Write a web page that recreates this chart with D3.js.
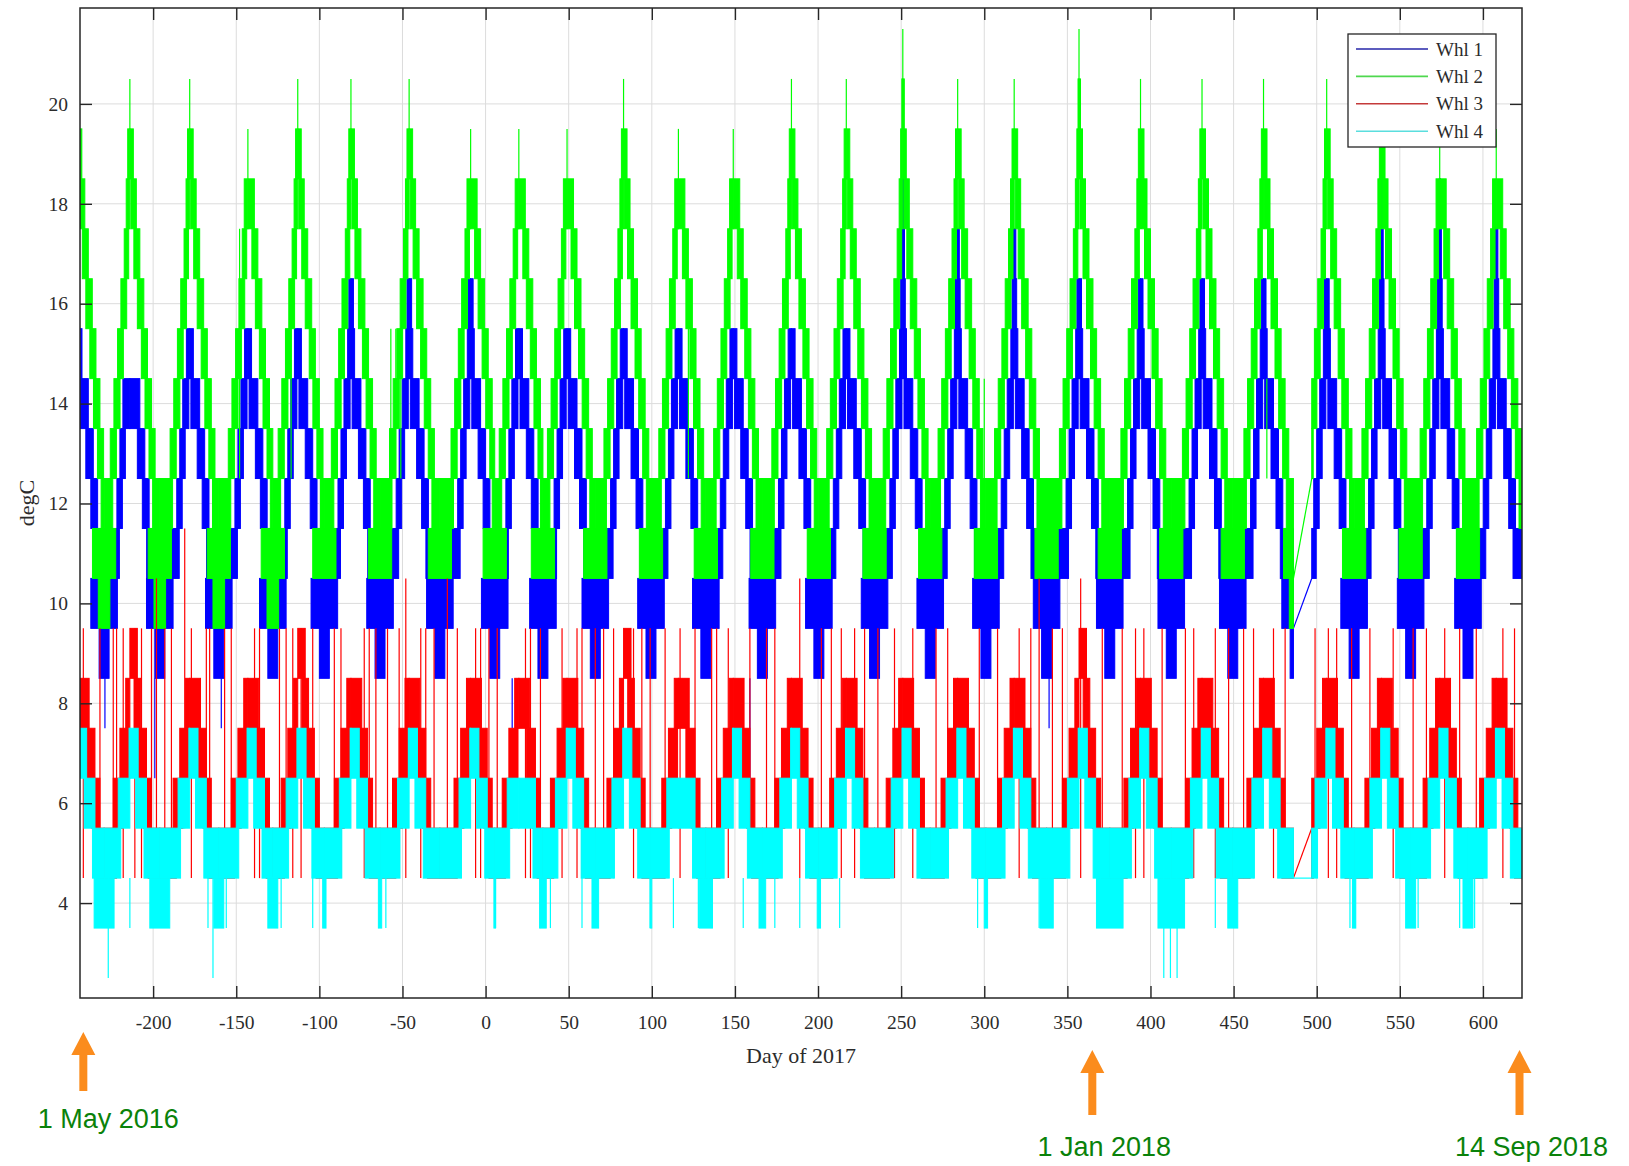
<!DOCTYPE html>
<html>
<head>
<meta charset="utf-8">
<title>Wheel temperatures</title>
<script src="https://cdn.jsdelivr.net/npm/d3@7"></script>
<style>
  body { margin: 0; background: #fff; }
  svg text { font-family: "Liberation Serif", "Times New Roman", serif; fill: #2b2b2b; }
  .tick text { font-size: 19.5px; }
</style>
</head>
<body>
<div id="chart"></div>
<script>
// ---------------- data ----------------
var dayTicks = [-200, -150, -100, -50, 0, 50, 100, 150, 200, 250, 300, 350, 400, 450, 500, 550, 600];
var tempTicks = [4, 6, 8, 10, 12, 14, 16, 18, 20];

// day (of 2017) of each warm peak of the cycle
var cycleDay = [-245, -214, -178, -143, -113, -81, -46, -9, 20, 49, 83, 116, 149, 184, 217, 251, 284, 318, 357, 394, 431, 468, 506, 539, 574, 608];

// highest level reached in each cycle
var whl1Peak = [15.5, 14.5, 15.5, 15.5, 15.5, 16.5, 16.5, 16.5, 15.5, 15.5, 15.5, 15.5, 15.5, 15.5, 15.5, 18.5, 17.5, 17.5, 16.5, 16.5, 16.5, 16.5, 16.5, 18.5, 18.5, 17.5];
var whl2Peak = [20.5, 20.5, 20.5, 19.5, 20.5, 20.5, 20.5, 19.5, 19.5, 19.5, 20.5, 19.5, 19.5, 20.5, 20.5, 21.5, 20.5, 20.5, 21.5, 20.5, 20.5, 20.5, 20.5, 20.5, 19.5, 19.5];
var whl3Peak = [8.5, 9.5, 8.5, 8.5, 9.5, 8.5, 8.5, 8.5, 8.5, 8.5, 9.5, 8.5, 8.5, 8.5, 8.5, 8.5, 8.5, 8.5, 9.5, 8.5, 8.5, 8.5, 8.5, 8.5, 8.5, 8.5];
var whl4Peak = [7.5, 7.5, 7.5, 7.5, 7.5, 7.5, 7.5, 7.5, 6.5, 7.5, 7.5, 6.5, 7.5, 7.5, 7.5, 7.5, 7.5, 7.5, 7.5, 7.5, 7.5, 7.5, 7.5, 7.5, 7.5, 7.5];

// lowest level in the cold spell that follows each peak
var whl1Low = [8.5, 8.5, 8.5, 8.5, 8.5, 8.5, 8.5, 8.5, 8.5, 8.5, 8.5, 8.5, 8.5, 8.5, 8.5, 8.5, 8.5, 8.5, 8.5, 8.5, 8.5, 8.5, 8.5, 8.5, 8.5, 8.5];
var whl2Low = [9.5, 9.5, 9.5, 9.5, 10.5, 10.5, 10.5, 10.5, 10.5, 10.5, 10.5, 10.5, 10.5, 10.5, 10.5, 10.5, 10.5, 10.5, 10.5, 10.5, 10.5, 9.5, 10.5, 10.5, 10.5, 10.5];
var whl3Low = [4.5, 4.5, 4.5, 4.5, 4.5, 4.5, 4.5, 4.5, 4.5, 4.5, 4.5, 4.5, 4.5, 4.5, 4.5, 4.5, 4.5, 4.5, 4.5, 4.5, 4.5, 4.5, 4.5, 4.5, 4.5, 4.5];
var whl4Low = [3.5, 3.5, 3.5, 3.5, 3.5, 3.5, 3.5, 3.5, 3.5, 3.5, 3.5, 3.5, 3.5, 3.5, 3.5, 3.5, 3.5, 3.5, 3.5, 3.5, 3.5, 3.5, 3.5, 3.5, 3.5, 3.5];
// days either side of the cold-spell middle spent at 3.5-4.5 (Whl 4)
var whl4ColdHalf = [6, 6, 3, 3, 1, 1, 0, 0.5, 2, 2, 0.5, 4, 2, 1, 0, 0, 1, 4, 8, 8, 3, 1, 1, 3, 3, 0];

// staircase of each wheel: top of each 1-degree step and the days
// before / after the peak where that step ends
var whl1Steps = [18.5, 17.5, 16.5, 15.5, 14.5, 13.5, 12.5];
var whl1Before = [0.3, 0.8, 1.3, 2.0, 4.2, 6.0, 7.8];
var whl1After = [0.5, 1.0, 1.5, 2.2, 6.0, 9.0, 11.6];
var whl2Steps = [21.5, 20.5, 19.5, 18.5, 17.5, 16.5, 15.5, 14.5, 13.5];
var whl2Before = [0.2, 0.6, 1.3, 2.2, 3.4, 5.4, 7.4, 9.6, 11.8];
var whl2After = [0.2, 0.9, 2.1, 3.9, 6.0, 8.4, 10.6, 13.0, 15.2];
var whl3Steps = [9.5, 8.5, 7.5, 6.5];
var whl3Before = [0, 2.5, 6, 10];
var whl3After = [4.5, 6.5, 10, 13];
var whl4Steps = [7.5, 6.5];
var whl4Before = [0.5, 7];
var whl4After = [5, 10];

// steps below the cold-spell floor: step top and half width (days) round the middle
var whl1Deep = [10.5, 9.5, 8.5];
var whl1DeepHalf = [8, 3, 1];
var whl2Deep = [11.5, 10.5, 9.5];
var whl2DeepHalf = [7, 3.5, 1.5];

// single excursions (thin lines)
var whl1DipDay = [-229, -199, -159, 16, 159, 339];
var whl1DipLow = [7.5, 6.5, 7.5, 7.5, 6.5, 7.5];
var whl2FlickDay = [-148, -117, -57, -54, -51, 122, 300, 470];
var whl2FlickTop = [17.5, 16.5, 15.5, 15.5, 15.5, 15.5, 14.5, 14.5];
var whl3Spike95 = [-242, -232, -224, -222, -218, -211, -207, -201, -193, -189, -177, -168, -166, -157, -153, -139, -136, -124, -120, -116, -111, -104, -91, -87, -73, -70, -66, -59, -52, -39, -36, -31, -17, -6, -3, 2, 7, 24, 27, 33, 46, 55, 58, 66, 71, 77, 89, 94, 99, 108, 117, 126, 136, 139, 146, 159, 169, 174, 202, 208, 214, 222, 228, 236, 246, 257, 271, 278, 297, 308, 321, 328, 341, 347, 371, 383, 391, 396, 407, 421, 426, 439, 447, 456, 462, 474, 481, 499, 507, 512, 521, 532, 546, 558, 566, 577, 586, 596, 612, 619];
var whl3Spike105 = [-198, -48, -23, 189, 333, 358];
var whl3Spike115 = [-181];
var whl4Dip35 = [-214, -167, -156, -123, -104, -97, -60, 6, 33, 39, 58, 67, 99, 113, 128, 131, 134, 155, 174, 189, 213, 296, 333, 339, 370, 439, 520, 523, 558, 561, 586, 595];
var whl4Dip25 = [-227, -164, 408, 412, 416];

// missing data, bridged by straight lines
var gapDays = [486, 497];
var whl1Gap = [9.5, 10.5];
var whl2Gap = [10.5, 12.5];
var whl3Gap = [4.5, 5.5];
var whl4Gap = [4.5, 4.5];

var legendLabels = ["Whl 1", "Whl 2", "Whl 3", "Whl 4"];
var noteDays = [-242, 365, 622];
var noteLabels = ["1 May 2016", "1 Jan 2018", "14 Sep 2018"];

// ---------------- layout ----------------
var W = 1629, H = 1166;
var margin = { top: 8, right: 107, bottom: 168, left: 80 };
var width = W - margin.left - margin.right;
var height = H - margin.top - margin.bottom;

var x = d3.scaleLinear().domain([-244, 623.5]).range([0, width]);
var y = d3.scaleLinear().domain([2.1, 21.92]).range([height, 0]);

// "spread" = days a flicker block reaches back under the step above it
var series = [
  { color: "#0000ff", legend: "#2626a8", peak: whl1Peak, low: whl1Low, steps: whl1Steps, before: whl1Before, after: whl1After,
    floor: 11.5, deep: whl1Deep, deepHalf: whl1DeepHalf, spikeTop: false, gap: whl1Gap, spread: 1.5 },
  { color: "#00ff00", legend: "#4fd84f", peak: whl2Peak, low: whl2Low, steps: whl2Steps, before: whl2Before, after: whl2After,
    floor: 12.5, deep: whl2Deep, deepHalf: whl2DeepHalf, spikeTop: true, gap: whl2Gap, spread: 1.5 },
  { color: "#ff0000", legend: "#c43a3a", peak: whl3Peak, low: whl3Low, steps: whl3Steps, before: whl3Before, after: whl3After,
    floor: 5.5, deep: [], deepHalf: [], spikeTop: false, gap: whl3Gap, spread: 2 },
  { color: "#00ffff", legend: "#5adede", peak: whl4Peak, low: whl4Low, steps: whl4Steps, before: whl4Before, after: whl4After,
    floor: 5.5, deep: [4.5], deepHalf: [whl4ColdHalf], spikeTop: false, gap: whl4Gap, spread: 1.5 }
];

// thin line excursions per series: [day, from, to]
series[0].lines = whl1DipDay.map(function (d, i) { return [d, 8.5, whl1DipLow[i]]; });
series[1].lines = whl2FlickDay.map(function (d, i) { return [d, 12.5, whl2FlickTop[i]]; });
series[2].lines = whl3Spike95.map(function (d) { return [d, 4.5, 9.5]; })
  .concat(whl3Spike105.map(function (d) { return [d, 4.5, 10.5]; }))
  .concat(whl3Spike115.map(function (d) { return [d, 5.5, 11.5]; }));
series[3].lines = whl4Dip35.map(function (d) { return [d, 4.5, 3.5]; })
  .concat(whl4Dip25.map(function (d) { return [d, 4.5, 2.5]; }));

// split a block round the data gap
function cutGap(b) {
  if (b.d1 <= gapDays[0] || b.d0 >= gapDays[1]) return [b];
  var parts = [];
  if (b.d0 < gapDays[0]) parts.push({ d0: b.d0, d1: gapDays[0], lo: b.lo, hi: b.hi });
  if (b.d1 > gapDays[1]) parts.push({ d0: gapDays[1], d1: b.d1, lo: b.lo, hi: b.hi });
  return parts;
}

// blocks where the reading flickers between two neighbouring levels
function blocksFor(s) {
  var out = [];
  var n = cycleDay.length;
  cycleDay.forEach(function (p, i) {
    var leftMid = i > 0 ? (cycleDay[i - 1] + p) / 2 : p - 30;
    var rightMid = i < n - 1 ? (p + cycleDay[i + 1]) / 2 : p + 30;
    var k = s.steps.indexOf(s.peak[i]);
    if (s.spikeTop) {
      s.lines.push([p, s.peak[i] - 1, s.peak[i]]);
      k += 1;
    }
    var inL = 0, inR = 0;
    for (; k < s.steps.length; k++) {
      var hi = s.steps[k];
      var oL = Math.min(s.before[k], p - leftMid), oR = Math.min(s.after[k], rightMid - p);
      out.push({ d0: p - oL, d1: p - Math.max(0, inL - s.spread), lo: hi - 1, hi: hi });
      out.push({ d0: p + Math.max(0, inR - s.spread), d1: p + oR, lo: hi - 1, hi: hi });
      inL = Math.max(inL, oL); inR = Math.max(inR, oR);
    }
    out.push({ d0: leftMid, d1: p - Math.max(0, inL - s.spread), lo: s.floor - 1, hi: s.floor });
    out.push({ d0: p + Math.max(0, inR - s.spread), d1: rightMid, lo: s.floor - 1, hi: s.floor });

    s.deep.forEach(function (top, j) {
      var h = typeof s.deepHalf[j] === "number" ? s.deepHalf[j] : s.deepHalf[j][i];
      if (top - 1 < s.low[i] || h <= 0) return;
      out.push({ d0: rightMid - h, d1: rightMid + h, lo: top - 1, hi: top });
    });
  });
  var cut = [];
  out.forEach(function (b) { cut = cut.concat(cutGap(b)); });
  return cut.filter(function (b) { return b.d1 > b.d0; });
}

// ---------------- drawing ----------------
var svg = d3.select("#chart").append("svg")
  .attr("width", W)
  .attr("height", H)
  .style("background", "#fff");

var g = svg.append("g")
  .attr("transform", "translate(" + margin.left + "," + margin.top + ")");

g.append("clipPath").attr("id", "plotclip")
  .append("rect").attr("width", width).attr("height", height);

// grid
g.append("g").selectAll("line")
  .data(dayTicks).enter().append("line")
  .attr("x1", function (d) { return x(d); }).attr("x2", function (d) { return x(d); })
  .attr("y1", 0).attr("y2", height)
  .attr("stroke", "#dcdcdc").attr("stroke-width", 1);
g.append("g").selectAll("line")
  .data(tempTicks).enter().append("line")
  .attr("y1", function (d) { return y(d); }).attr("y2", function (d) { return y(d); })
  .attr("x1", 0).attr("x2", width)
  .attr("stroke", "#dcdcdc").attr("stroke-width", 1);

var plot = g.append("g").attr("clip-path", "url(#plotclip)");

series.forEach(function (s) {
  var layer = plot.append("g");
  var blocks = blocksFor(s);

  layer.selectAll("rect")
    .data(blocks).enter().append("rect")
    .attr("x", function (b) { return x(b.d0); })
    .attr("width", function (b) { return Math.max(0.5, x(b.d1) - x(b.d0)); })
    .attr("y", function (b) { return y(b.hi); })
    .attr("height", function (b) { return y(b.lo) - y(b.hi); })
    .attr("fill", s.color)
    .attr("stroke", s.color)
    .attr("stroke-width", 1);

  layer.selectAll("line")
    .data(s.lines.filter(function (l) { return l[0] < gapDays[0] || l[0] > gapDays[1]; }))
    .enter().append("line")
    .attr("x1", function (l) { return x(l[0]); }).attr("x2", function (l) { return x(l[0]); })
    .attr("y1", function (l) { return y(l[1]); }).attr("y2", function (l) { return y(l[2]); })
    .attr("stroke", s.color).attr("stroke-width", 1.2);

  layer.append("path")
    .datum([[gapDays[0], s.gap[0]], [gapDays[1], s.gap[1]]])
    .attr("d", d3.line().x(function (d) { return x(d[0]); }).y(function (d) { return y(d[1]); }))
    .attr("fill", "none").attr("stroke", s.color).attr("stroke-width", 1.2);
});

// axes: ticks pointing inward on all four sides
var fmt = function (d) { return String(d); };
var axes = [
  g.append("g").attr("transform", "translate(0," + height + ")")
    .call(d3.axisBottom(x).tickValues(dayTicks).tickSizeInner(-12).tickSizeOuter(0).tickPadding(17).tickFormat(fmt)),
  g.append("g")
    .call(d3.axisTop(x).tickValues(dayTicks).tickSizeInner(-12).tickSizeOuter(0).tickFormat("")),
  g.append("g")
    .call(d3.axisLeft(y).tickValues(tempTicks).tickSizeInner(-12).tickSizeOuter(0).tickPadding(12).tickFormat(fmt)),
  g.append("g").attr("transform", "translate(" + width + ",0)")
    .call(d3.axisRight(y).tickValues(tempTicks).tickSizeInner(-12).tickSizeOuter(0).tickFormat(""))
];
axes.forEach(function (a) {
  a.select(".domain").remove();
  a.selectAll(".tick line").attr("stroke", "#262626").attr("stroke-width", 1.4);
});

g.append("rect")
  .attr("width", width).attr("height", height)
  .attr("fill", "none").attr("stroke", "#262626").attr("stroke-width", 1.5);

// axis titles
g.append("text")
  .attr("x", width / 2).attr("y", height + 65)
  .attr("text-anchor", "middle")
  .style("font-size", "22px")
  .text("Day of 2017");

g.append("text")
  .attr("transform", "translate(" + (26 - margin.left) + "," + (height / 2) + ") rotate(-90)")
  .attr("text-anchor", "middle")
  .attr("dy", "0.35em")
  .style("font-size", "22px")
  .text("degC");

// legend
var legend = g.append("g").attr("transform", "translate(" + (width - 174) + ",26)");
legend.append("rect")
  .attr("width", 148).attr("height", 113)
  .attr("fill", "#fff").attr("stroke", "#262626").attr("stroke-width", 1.3);
var item = legend.selectAll("g.item")
  .data(legendLabels).enter().append("g")
  .attr("transform", function (d, i) { return "translate(0," + (15 + i * 27.4) + ")"; });
item.append("line")
  .attr("x1", 8).attr("x2", 80).attr("y1", 0).attr("y2", 0)
  .attr("stroke", function (d, i) { return series[i].legend; })
  .attr("stroke-width", 1.6);
item.append("text")
  .attr("x", 88).attr("dy", "0.35em")
  .style("font-size", "19px")
  .text(function (d) { return d; });

// date notes below the axis
var noteLayout = [
  { top: 1032, bottom: 1091, dx: 25, base: 1128 },
  { top: 1050, bottom: 1115, dx: 12, base: 1156 },
  { top: 1050, bottom: 1115, dx: 12, base: 1156 }
];
var notes = svg.selectAll("g.note")
  .data(noteDays).enter().append("g")
  .attr("transform", function (d) { return "translate(" + (margin.left + x(d)) + ",0)"; });
notes.append("path")
  .attr("d", function (d, i) {
    var L = noteLayout[i], head = L.top + 23;
    return "M0," + L.top + "L12," + head + "L4," + head + "L4," + L.bottom +
      "L-4," + L.bottom + "L-4," + head + "L-12," + head + "Z";
  })
  .attr("fill", "#fb8c1d");
notes.append("text")
  .attr("x", function (d, i) { return noteLayout[i].dx; })
  .attr("y", function (d, i) { return noteLayout[i].base; })
  .attr("text-anchor", "middle")
  .style("font-family", "'Liberation Sans', Arial, sans-serif")
  .style("font-size", "27px")
  .style("fill", "#0a820a")
  .text(function (d, i) { return noteLabels[i]; });
</script>
</body>
</html>
